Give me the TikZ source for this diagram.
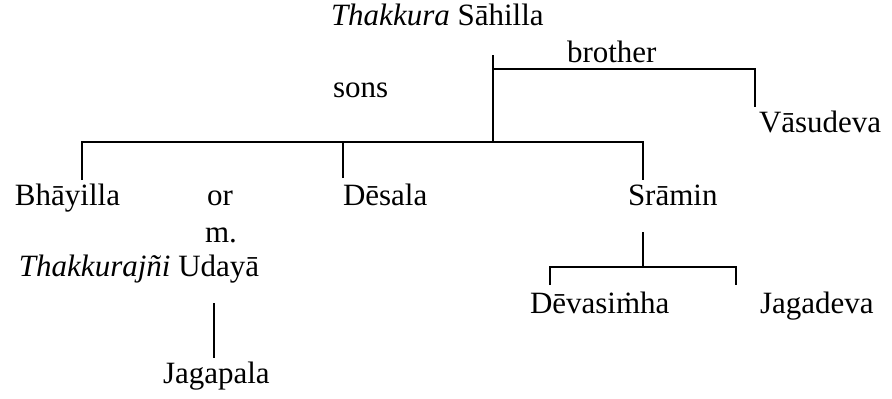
\documentclass[tikz,border=0pt]{standalone}
\usepackage{fontspec}
\setmainfont{Liberation Serif}
\begin{document}
\begin{tikzpicture}[x=1pt,y=-1pt,
  person/.style={anchor=base west,inner sep=0pt,outer sep=0pt,font=\fontsize{31}{37}\selectfont},
  link/.style={line width=1.3pt,black}]
\useasboundingbox (0,0) rectangle (892,399);

% people and labels
\node[person] (sahilla)  at (331,25)  {\textit{Thakkura} Sāhilla};
\node[person] (brother)  at (567,62)  {brother};
\node[person] (sons)     at (333,97)  {sons};
\node[person] (vasudeva) at (759,132) {Vāsudeva};
\node[person] (bhayilla) at (15,205)  {Bhāyilla};
\node[person] (or)       at (207,205) {or};
\node[person] (desala)   at (343,205) {Dēsala};
\node[person] (sramin)   at (628,205) {Srāmin};
\node[person] (m)        at (205,242) {m.};
\node[person] (udaya)    at (19,276)  {\textit{Thakkurajñi} Udayā};
\node[person] (devasimha) at (530,313) {Dēvasiṁha};
\node[person] (jagadeva) at (760,313) {Jagadeva};
\node[person] (jagapala) at (163,383) {Jagapala};

% junction points of the family lines
\coordinate (trunktop) at (493,55);
\coordinate (broj)     at (493,69);
\coordinate (broend)   at (755,107);
\coordinate (sonsj)    at (493,142);
\coordinate (bhayend)  at (82,180);
\coordinate (desend)   at (343,178);
\coordinate (sramend)  at (643,180);
\coordinate (sramtop)  at (643,232);
\coordinate (kidsj)    at (643,267);
\coordinate (devend)   at (550,285);
\coordinate (jagend)   at (736,285);
\coordinate (udtop)    at (214,303);
\coordinate (jagptop)  at (214,358);

% Sahilla's line to his sons, with the brother branch
\draw[link] (trunktop) -- (sonsj);
\draw[link] (broj) -| (broend);
\draw[link] (bhayend) |- (sonsj) -| (sramend);
\draw[link] (desend) -- (desend |- sonsj);
% Sramin's sons
\draw[link] (sramtop) -- (kidsj);
\draw[link] (devend) |- (kidsj) -| (jagend);
% Jagapala
\draw[link] (udtop) -- (jagptop);
\end{tikzpicture}
\end{document}
